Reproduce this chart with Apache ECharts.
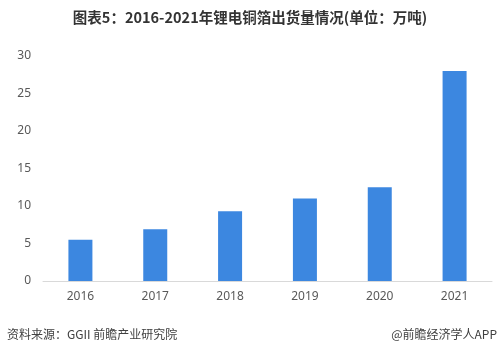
<!DOCTYPE html>
<html><head><meta charset="utf-8">
<script src="https://cdn.jsdelivr.net/npm/echarts@6/dist/echarts.min.js"></script>
<style>html,body{margin:0;padding:0;background:#fff}#c{width:500px;height:353px}</style>
</head><body><div id="c"></div>
<script>
const categories = ['2016','2017','2018','2019','2020','2021'];
const values = [5.5, 6.9, 9.3, 11.0, 12.5, 28.0];
const yTicks = [0, 5, 10, 15, 20, 25, 30];
const title = '图表5：2016-2021年锂电铜箔出货量情况(单位：万吨)';
const source = '资料来源：GGII 前瞻产业研究院';
const credit = '@前瞻经济学人APP';

const chart = echarts.init(document.getElementById('c'), null, {renderer:'canvas'});
chart.setOption({
  animation:false,
  backgroundColor:'#fff',
  title:{text:title, left:'center', top:5, textStyle:{fontSize:14.5, fontWeight:'bold', color:'#333', fontFamily:'"Noto Sans CJK SC", sans-serif'}},
  grid:{left:43, right:8, top:56, bottom:72, containLabel:false},
  xAxis:{type:'category', data:categories,
    axisLine:{lineStyle:{color:'#d9d9d9', width:1}}, axisTick:{show:false},
    axisLabel:{color:'#595959', fontSize:12, margin:10, fontFamily:'"Noto Sans", sans-serif'}},
  yAxis:{type:'value', min:yTicks[0], max:yTicks[yTicks.length-1], interval:5,
    splitLine:{show:false}, axisLine:{show:false}, axisTick:{show:false},
    axisLabel:{color:'#595959', fontSize:12, margin:12, fontFamily:'"Noto Sans", sans-serif'}},
  series:[{type:'bar', data:values, barWidth:24, itemStyle:{color:'#3C87E0'}}],
  graphic:[
    {type:'text', left:7, top:328, style:{text:source, fontSize:12, fill:'#404040', fontFamily:'"Noto Sans CJK SC", sans-serif'}},
    {type:'text', right:3, top:328, style:{text:credit, fontSize:12, fill:'#404040', fontFamily:'"Noto Sans CJK SC", sans-serif'}}
  ]
});
</script></body></html>
